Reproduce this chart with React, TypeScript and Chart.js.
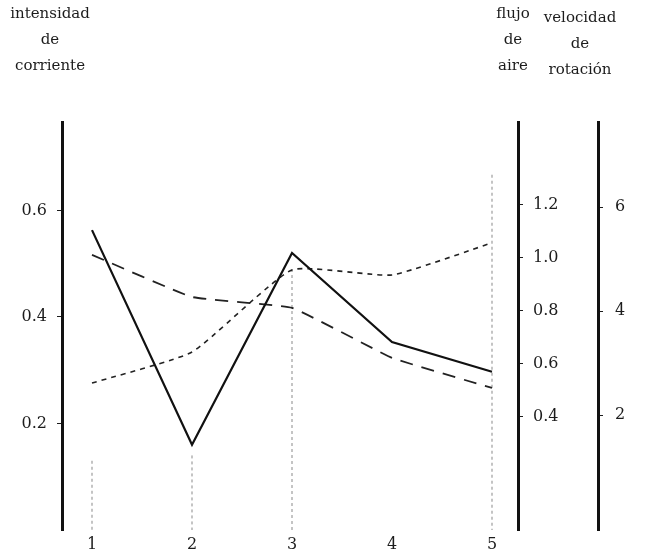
import React, { useEffect, useRef } from "react";
import { Chart, registerables } from "chart.js";

Chart.register(...registerables);

// ---- data ----
const categories = [1, 2, 3, 4, 5];
const intensidad = [0.563, 0.16, 0.52, 0.353, 0.297];
const flujo = [0.528, 0.645, 0.955, 0.936, 1.057];
const velocidad = [5.08, 4.27, 4.06, 3.1, 2.52];

const intensidadTicks = [0.2, 0.4, 0.6];
const flujoTicks = [0.4, 0.6, 0.8, 1.0, 1.2];
const velocidadTicks = [2, 4, 6];

const guideCategories = [1, 2, 3, 5];
const guideTops = [0.13, 0.14, 0.49, 0.667];

const titleIntensidad = ["intensidad", "de", "corriente"];
const titleFlujo = ["flujo", "de", "aire"];
const titleVelocidad = ["velocidad", "de", "rotación"];

const FONT = "'DejaVu Serif', 'Liberation Serif', serif";
const INK = "#1c1c1c";

const guidePlugin = {
  id: "guides",
  beforeDatasetsDraw(chart: any) {
    const { ctx } = chart;
    const xs = chart.scales.x;
    const ys = chart.scales.yI;
    ctx.save();
    ctx.strokeStyle = "#8a8a8a";
    ctx.lineWidth = 1;
    ctx.setLineDash([3, 3]);
    guideCategories.forEach((c, i) => {
      const x = xs.getPixelForValue(c);
      ctx.beginPath();
      ctx.moveTo(x, ys.getPixelForValue(guideTops[i]));
      ctx.lineTo(x, chart.chartArea.bottom);
      ctx.stroke();
    });
    ctx.restore();
  },
};

const titlePlugin = {
  id: "titles",
  afterDraw(chart: any) {
    const { ctx } = chart;
    const drawBlock = (lines: string[], cx: number, y0: number) => {
      lines.forEach((t, i) => {
        ctx.fillText(t, cx, y0 + i * 26);
      });
    };
    ctx.save();
    ctx.fillStyle = INK;
    ctx.font = `15px ${FONT}`;
    ctx.textAlign = "center";
    ctx.textBaseline = "middle";
    drawBlock(titleIntensidad, chart.scales.yI.right - 12, 14);
    drawBlock(titleFlujo, chart.scales.yF.left - 5, 14);
    drawBlock(titleVelocidad, chart.scales.yV.left - 18, 18);
    ctx.restore();
  },
};

function ChartView() {
  const ref = useRef<HTMLCanvasElement | null>(null);
  useEffect(() => {
    document.body.style.margin = "0";
    const canvas = ref.current;
    if (!canvas) return;
    const tickFont = { family: FONT, size: 16 };
    const yCommon = (ticksArr: number[], width: number, pad: number, digits: number) => ({
      type: "linear",
      afterBuildTicks: (s: any) => {
        s.ticks = ticksArr.map((v) => ({ value: v }));
      },
      afterFit: (s: any) => {
        s.width = width;
      },
      grid: {
        drawOnChartArea: false,
        drawTicks: true,
        tickLength: 5,
        color: INK,
        lineWidth: 1,
      },
      border: { display: true, color: "#111", width: 3 },
      ticks: {
        color: INK,
        font: tickFont,
        padding: pad,
        callback: (v: any) => Number(v).toFixed(digits),
      },
    });
    const chart = new Chart(canvas, {
      type: "line",
      data: {
        datasets: [
          {
            label: "intensidad de corriente",
            data: categories.map((c, i) => ({ x: c, y: intensidad[i] })),
            yAxisID: "yI",
            borderColor: "#111",
            borderWidth: 2.2,
            pointRadius: 0,
            tension: 0,
          },
          {
            label: "flujo de aire",
            data: categories.map((c, i) => ({ x: c, y: flujo[i] })),
            yAxisID: "yF",
            borderColor: "#222",
            borderWidth: 1.6,
            borderDash: [5, 5],
            pointRadius: 0,
            tension: 0.15,
          },
          {
            label: "velocidad de rotación",
            data: categories.map((c, i) => ({ x: c, y: velocidad[i] })),
            yAxisID: "yV",
            borderColor: "#222",
            borderWidth: 1.8,
            borderDash: [13, 9],
            pointRadius: 0,
            tension: 0.1,
          },
        ],
      },
      options: {
        animation: false,
        responsive: false,
        devicePixelRatio: 1,
        layout: { padding: { top: 122, left: 0, right: 0, bottom: 0 } },
        plugins: { legend: { display: false }, tooltip: { enabled: false } },
        scales: {
          x: {
            type: "linear",
            position: "bottom",
            min: 0.7,
            max: 5.26,
            afterBuildTicks: (s: any) => {
              s.ticks = categories.map((v) => ({ value: v }));
            },
            afterFit: (s: any) => {
              s.height = 23;
            },
            grid: { display: false },
            border: { display: false },
            ticks: { color: INK, font: tickFont, padding: -3, callback: (v: any) => String(v) },
          },
          yI: { ...yCommon(intensidadTicks, 62, 10, 1), position: "left", min: 0, max: 0.766 },
          yF: { ...yCommon(flujoTicks, 80, 10, 1), position: "right", weight: 1, min: -0.0264, max: 1.513 },
          yV: { ...yCommon(velocidadTicks, 64, 12, 0), position: "right", weight: 2, min: -0.2115, max: 7.635 },
        } as any,
      },
      plugins: [guidePlugin, titlePlugin],
    } as any);
    return () => chart.destroy();
  }, []);
  return <canvas ref={ref} width={662} height={553} style={{ display: "block" }} />;
}

export default function App() {
  return (
    <div style={{ width: 662, height: 553, background: "#fff" }}>
      <ChartView />
    </div>
  );
}
